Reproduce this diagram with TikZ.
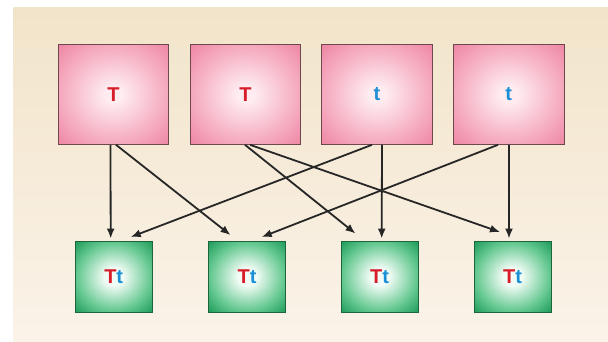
\documentclass[tikz,border=0pt]{standalone}
\usepackage{fontspec}
\setmainfont{Liberation Sans}
\usetikzlibrary{arrows.meta}

\definecolor{bgtop}{RGB}{242,228,202}
\definecolor{bgbot}{RGB}{251,243,233}
\definecolor{pinkC}{RGB}{254,236,240}
\definecolor{pinkM}{RGB}{246,176,196}
\definecolor{pinkE}{RGB}{238,132,162}
\definecolor{pinkline}{RGB}{110,72,78}
\definecolor{greenC}{RGB}{242,252,246}
\definecolor{greenM}{RGB}{100,200,144}
\definecolor{greenE}{RGB}{26,152,86}
\definecolor{greenline}{RGB}{30,100,60}
\definecolor{alleleT}{RGB}{215,28,42}
\definecolor{allelet}{RGB}{28,144,214}

\pgfdeclareradialshading{pinkglow}{\pgfpoint{0bp}{0bp}}{%
  color(0bp)=(pinkC); color(4bp)=(pinkC); color(22bp)=(pinkM);
  color(36bp)=(pinkE); color(50bp)=(pinkE)}
\pgfdeclareradialshading{greenglow}{\pgfpoint{0bp}{0bp}}{%
  color(0bp)=(greenC); color(6bp)=(greenC); color(24bp)=(greenM);
  color(36bp)=(greenE); color(50bp)=(greenE)}

\newcommand{\bigT}{\textcolor{alleleT}{T}}
\newcommand{\smallt}{\textcolor{allelet}{t}}

\tikzset{
  parentbox/.style={draw=pinkline, line width=0.8pt, shading=pinkglow,
    minimum width=110.5pt, minimum height=100pt, inner sep=0pt,
    font=\fontsize{20}{22}\selectfont\bfseries},
  childbox/.style={draw=greenline, line width=0.8pt, shading=greenglow,
    minimum width=77pt, minimum height=70.5pt, inner sep=0pt,
    font=\fontsize{20}{22}\selectfont\bfseries},
  cross/.style={line width=1.8pt, black!85,
    -{Latex[length=10pt,width=8pt]}}
}

\begin{document}
\begin{tikzpicture}[x=1pt,y=-1pt]
  \useasboundingbox (0,0) rectangle (608,341);
  % page backdrop
  \shade[top color=bgtop, bottom color=bgbot] (13.5,7.5) rectangle (608,341);

  % parents
  \node[parentbox] (t1) at (113.5,94.4) {\bigT};
  \node[parentbox] (t2) at (245.5,94.4) {\bigT};
  \node[parentbox] (t3) at (377,94.4)   {\smallt};
  \node[parentbox] (t4) at (508.75,94.4) {\smallt};

  % offspring
  \node[childbox] (b1) at (113.7,276.7) {\bigT\smallt};
  \node[childbox] (b2) at (247,276.7)   {\bigT\smallt};
  \node[childbox] (b3) at (379.5,276.7) {\bigT\smallt};
  \node[childbox] (b4) at (512.5,276.7) {\bigT\smallt};

  % allele combinations
  \draw[cross] ([xshift=-3pt]t1.south)   -- ([xshift=-3pt,yshift=2.5pt]b1.north);
  \draw[cross] ([xshift=2.5pt]t1.south)  -- ([xshift=-16.5pt,yshift=6pt]b2.north);
  \draw[cross] ([xshift=-0.5pt]t2.south) -- ([xshift=-24pt,yshift=7.5pt]b3.north);
  \draw[cross] ([xshift=4.5pt]t2.south)  -- ([xshift=-12.5pt,yshift=9pt]b4.north);
  \draw[cross] ([xshift=-5pt]t3.south)   -- ([xshift=17pt,yshift=4pt]b1.north);
  \draw[cross] ([xshift=5pt]t3.south)    -- ([xshift=2.2pt,yshift=2.5pt]b3.north);
  \draw[cross] ([xshift=-10.75pt]t4.south) -- ([xshift=14.7pt,yshift=4pt]b2.north);
  \draw[cross] ([xshift=0.25pt]t4.south) -- ([xshift=-3.5pt,yshift=2.5pt]b4.north);
\end{tikzpicture}
\end{document}
